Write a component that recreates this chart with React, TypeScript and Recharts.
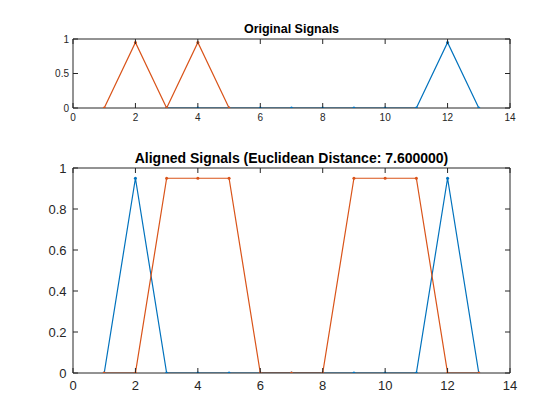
import React from 'react';
import { LineChart, Line, XAxis, YAxis } from 'recharts';

const topBlueX = [3, 4, 5, 6, 7, 8, 9, 10, 11, 12, 13];
const topBlueY = [0, 0, 0, 0, 0, 0, 0, 0, 0, 0.95, 0];
const topOrangeX = [1, 2, 3, 4, 5];
const topOrangeY = [0, 0.95, 0, 0.95, 0];

const alignedX = [1, 2, 3, 4, 5, 6, 7, 8, 9, 10, 11, 12, 13];
const alignedBlue = [0, 0.95, 0, 0, 0, 0, 0, 0, 0, 0, 0, 0.95, 0];
const alignedOrange = [0, 0, 0.95, 0.95, 0.95, 0, 0, 0, 0.95, 0.95, 0.95, 0, 0];

const xTicks = [0, 2, 4, 6, 8, 10, 12, 14];
const topYTicks = [0, 0.5, 1];
const bottomYTicks = [0, 0.2, 0.4, 0.6, 0.8, 1];

const topTitle = 'Original Signals';
const bottomTitle = 'Aligned Signals (Euclidean Distance: 7.600000)';

const BLUE = '#0072BD';
const ORANGE = '#D95319';
const AXIS = '#262626';
const FONT = '"Liberation Sans", Arial, Helvetica, sans-serif';

const zip = (xs: number[], ys: number[]) => xs.map((x, i) => ({ x, y: ys[i] }));

const topBlue = zip(topBlueX, topBlueY);
const topOrange = zip(topOrangeX, topOrangeY);
const botBlue = zip(alignedX, alignedBlue);
const botOrange = zip(alignedX, alignedOrange);

const makeTick =
  (side: 'bottom' | 'top' | 'left' | 'right', fontSize: number, label: boolean, xOff: number, yGap: number) =>
  (props: any) => {
    const { x, y, payload } = props;
    const len = 5;
    let line;
    let text = null;
    if (side === 'bottom') {
      line = <line x1={x} y1={y} x2={x} y2={y - len} stroke={AXIS} strokeWidth={1} />;
      if (label)
        text = (
          <text x={x} y={y + xOff} textAnchor="middle" fill={AXIS} fontSize={fontSize} fontFamily={FONT}>
            {payload.value}
          </text>
        );
    } else if (side === 'top') {
      line = <line x1={x} y1={y} x2={x} y2={y + len} stroke={AXIS} strokeWidth={1} />;
    } else if (side === 'left') {
      line = <line x1={x} y1={y} x2={x + len} y2={y} stroke={AXIS} strokeWidth={1} />;
      if (label)
        text = (
          <text x={x - yGap} y={y + fontSize * 0.36} textAnchor="end" fill={AXIS} fontSize={fontSize} fontFamily={FONT}>
            {payload.value}
          </text>
        );
    } else {
      line = <line x1={x} y1={y} x2={x - len} y2={y} stroke={AXIS} strokeWidth={1} />;
    }
    return (
      <g>
        {line}
        {text}
      </g>
    );
  };

const dot = (color: string) => ({ r: 1.5, fill: color, stroke: color, strokeWidth: 0 });

function Panel(props: {
  width: number;
  height: number;
  margin: any;
  xHeight: number;
  yTicks: number[];
  fontSize: number;
  xOff: number;
  yGap: number;
  blue: any[];
  orange: any[];
}) {
  const { width, height, margin, xHeight, yTicks, fontSize, xOff, yGap, blue, orange } = props;
  return (
    <LineChart width={width} height={height} margin={margin}>
      <XAxis
        xAxisId="b"
        type="number"
        dataKey="x"
        domain={[0, 14]}
        ticks={xTicks}
        orientation="bottom"
        height={xHeight}
        tickSize={0}
        tickMargin={0}
        tickLine={false}
        stroke={AXIS}
        interval={0}
        allowDataOverflow
        tick={makeTick('bottom', fontSize, true, xOff, yGap)}
      />
      <XAxis
        xAxisId="t"
        type="number"
        dataKey="x"
        domain={[0, 14]}
        ticks={xTicks}
        orientation="top"
        height={1}
        tickSize={0}
        tickMargin={0}
        tickLine={false}
        stroke={AXIS}
        interval={0}
        allowDataOverflow
        tick={makeTick('top', fontSize, false, xOff, yGap)}
      />
      <YAxis
        yAxisId="l"
        type="number"
        domain={[0, 1]}
        ticks={yTicks}
        orientation="left"
        width={1}
        tickSize={0}
        tickMargin={0}
        tickLine={false}
        stroke={AXIS}
        interval={0}
        allowDataOverflow
        tick={makeTick('left', fontSize, true, xOff, yGap)}
      />
      <YAxis
        yAxisId="r"
        type="number"
        domain={[0, 1]}
        ticks={yTicks}
        orientation="right"
        width={1}
        tickSize={0}
        tickMargin={0}
        tickLine={false}
        stroke={AXIS}
        interval={0}
        allowDataOverflow
        tick={makeTick('right', fontSize, false, xOff, yGap)}
      />
      <Line
        xAxisId="b"
        yAxisId="l"
        data={blue}
        dataKey="y"
        type="linear"
        stroke={BLUE}
        strokeWidth={1.2}
        dot={dot(BLUE)}
        activeDot={false}
        isAnimationActive={false}
      />
      <Line
        xAxisId="b"
        yAxisId="l"
        data={orange}
        dataKey="y"
        type="linear"
        stroke={ORANGE}
        strokeWidth={1.2}
        dot={dot(ORANGE)}
        activeDot={false}
        isAnimationActive={false}
      />
    </LineChart>
  );
}

export default function App() {
  return (
    <div style={{ position: 'absolute', left: 0, top: 0, width: 560, height: 420, background: '#fff', fontFamily: FONT }}>
      <div
        style={{
          position: 'absolute',
          left: 73,
          width: 437,
          top: 22.5,
          textAlign: 'center',
          fontWeight: 'bold',
          fontSize: 12.5,
          color: '#000',
          lineHeight: '12.5px',
          whiteSpace: 'nowrap',
        }}
      >
        {topTitle}
      </div>
      <div
        style={{
          position: 'absolute',
          left: 73,
          width: 437,
          top: 150.5,
          textAlign: 'center',
          fontWeight: 'bold',
          fontSize: 14,
          color: '#000',
          lineHeight: '14px',
          whiteSpace: 'nowrap',
        }}
      >
        {bottomTitle}
      </div>
      <div style={{ position: 'absolute', left: 0, top: 0 }}>
        <Panel
          width={560}
          height={130}
          margin={{ top: 38, right: 49, bottom: 0, left: 72 }}
          xHeight={22}
          yTicks={topYTicks}
          fontSize={10}
          xOff={12.5}
          yGap={4}
          blue={topBlue}
          orange={topOrange}
        />
      </div>
      <div style={{ position: 'absolute', left: 0, top: 130 }}>
        <Panel
          width={560}
          height={290}
          margin={{ top: 37, right: 49, bottom: 22, left: 72 }}
          xHeight={25}
          yTicks={bottomYTicks}
          fontSize={13}
          xOff={17}
          yGap={6.5}
          blue={botBlue}
          orange={botOrange}
        />
      </div>
    </div>
  );
}
